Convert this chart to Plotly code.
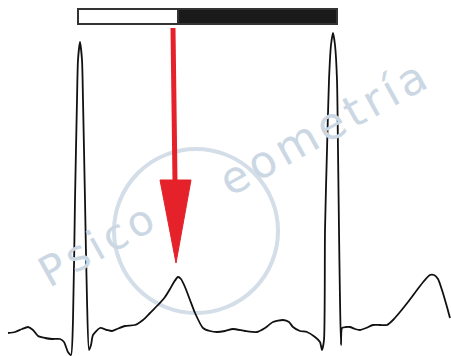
import plotly.graph_objects as go

# ECG trace (pixel-like coordinates, y grows downward)
ecg_x = [8, 15, 22, 28, 33, 38, 45, 52, 60, 64, 68, 71, 73, 75, 77, 78, 80, 82, 83, 85, 87, 89, 91, 93,
         100, 107, 112, 117, 125, 135, 143, 150, 158, 165, 170, 174, 178, 181, 185, 190, 195, 203,
         210, 217, 225, 233, 245, 257, 265, 273, 283, 289, 293, 300, 307, 315, 320, 322, 324, 325,
         327, 329, 331, 333, 335, 337, 338, 339, 340, 341, 342, 346, 350, 355, 360, 366, 373, 380,
         387, 393, 400, 408, 417, 424, 430, 434, 438, 442, 447, 450]
ecg_y = [333, 332, 329, 327, 330, 336, 338, 339, 339, 342, 352, 355, 320, 200, 100, 60, 42, 60, 100, 200, 300, 350, 345, 335,
         328, 330, 331, 329, 326, 325, 320, 313, 305, 297, 289, 282, 277, 279, 287, 300, 313, 328,
         331, 332, 331, 329, 331, 332, 328, 322, 320, 322, 327, 331, 332, 337, 342, 350, 340, 230,
         150, 80, 45, 33, 45, 80, 150, 230, 300, 345, 328, 327, 327, 329, 330, 328, 325, 325,
         325, 320, 312, 302, 290, 281, 275, 275, 279, 290, 307, 318]

# Top bar segments: (x0, x1, fill)
bar_x0 = [78, 178]
bar_x1 = [178, 337]
bar_fill = ["#ffffff", "#1a1a1a"]
bar_y = [9, 24]

# Red arrow
arrow_shaft_x = [173, 175]
arrow_shaft_y = [28, 182]
arrow_head_x = [160, 191, 176, 160]
arrow_head_y = [180, 180, 263, 180]

# Watermark
wm_text = "P\u200as\u200ai\u200ac\u200ao"
wm_text2 = "e\u200ao\u200am\u200ae\u200at\u200ar\u200aí\u200aa"
wm_pos1 = (96, 245)
wm_pos2 = (322, 128)
circle_center = (196, 231)
circle_r = 82
wm_color = "#cbd8e4"

fig = go.Figure()

# watermark circle
fig.add_shape(type="circle", xref="x", yref="y",
              x0=circle_center[0] - circle_r, x1=circle_center[0] + circle_r,
              y0=circle_center[1] - circle_r, y1=circle_center[1] + circle_r,
              line=dict(color="#d3dee8", width=4), layer="below")
fig.add_annotation(x=wm_pos1[0], y=wm_pos1[1], xref="x", yref="y", text=wm_text, showarrow=False,
                   textangle=-29, font=dict(family="DejaVu Sans", size=42, color=wm_color))
fig.add_annotation(x=wm_pos2[0], y=wm_pos2[1], xref="x", yref="y", text=wm_text2, showarrow=False,
                   textangle=-29, font=dict(family="DejaVu Sans", size=44, color=wm_color))

fig.add_trace(go.Scatter(x=ecg_x, y=ecg_y, mode="lines",
                         line=dict(color="#111111", width=1.8, shape="spline", smoothing=0.6),
                         hoverinfo="skip"))

fig.add_trace(go.Scatter(x=arrow_shaft_x, y=arrow_shaft_y, mode="lines",
                         line=dict(color="#e52129", width=5), hoverinfo="skip"))
fig.add_trace(go.Scatter(x=arrow_head_x, y=arrow_head_y, mode="lines", fill="toself",
                         fillcolor="#e52129", line=dict(color="#e52129", width=1), hoverinfo="skip"))

for x0, x1, f in zip(bar_x0, bar_x1, bar_fill):
    fig.add_shape(type="rect", xref="x", yref="y", x0=x0, x1=x1, y0=bar_y[0], y1=bar_y[1],
                  fillcolor=f, line=dict(color="#333333", width=2))

fig.update_layout(width=451, height=356, margin=dict(l=0, r=0, t=0, b=0),
                  paper_bgcolor="white", plot_bgcolor="white", showlegend=False,
                  xaxis=dict(range=[0, 451], visible=False, fixedrange=True),
                  yaxis=dict(range=[356, 0], visible=False, fixedrange=True))

fig.write_html("out.html", config={"displayModeBar": False},
               post_script="document.body.style.margin='0';document.body.style.overflow='hidden';")
